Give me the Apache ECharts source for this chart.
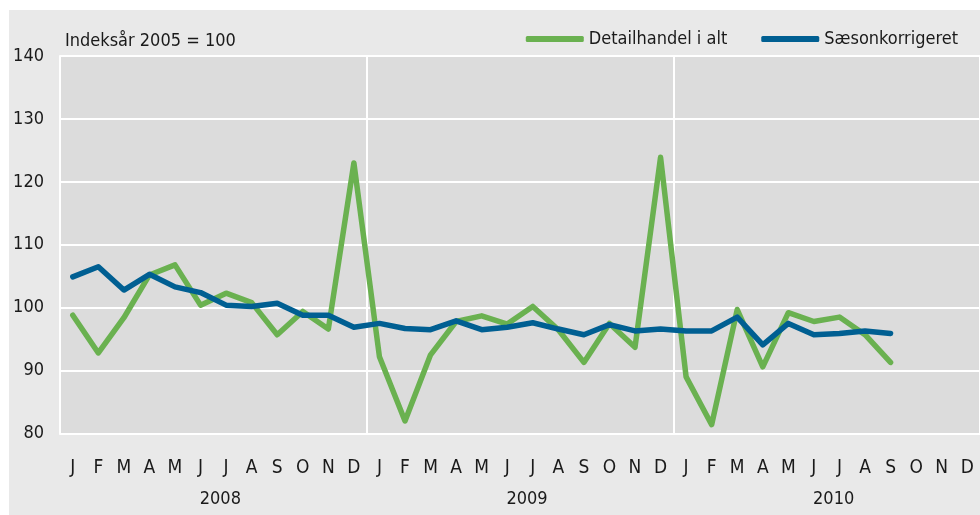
<!DOCTYPE html>
<html>
<head>
<meta charset="utf-8">
<script src="https://cdn.jsdelivr.net/npm/echarts@6/dist/echarts.min.js"></script>
<style>
html,body{margin:0;padding:0;background:#fff;}
#wrap{position:relative;width:980px;height:515px;background:#fff;overflow:hidden;}
#bg{position:absolute;left:9px;top:10px;width:971px;height:505px;background:#e9e9e9;}
#chart{position:absolute;left:0;top:0;width:980px;height:515px;}
</style>
</head>
<body>
<div id="wrap"><div id="bg"></div><div id="chart"></div></div>
<script>
var monthLetters = ['J','F','M','A','M','J','J','A','S','O','N','D'];
var years = ['2008','2009','2010'];
var seriesNames = ['Detailhandel i alt', 'Sæsonkorrigeret'];
var yTicks = [80, 90, 100, 110, 120, 130, 140];
var unitLabel = 'Indeksår 2005 = 100';

var detailhandel = [
  98.8, 92.8, 98.4, 105.2, 106.8, 100.4, 102.3, 100.8, 95.7, 99.4, 96.6, 123.0,
  92.2, 82.0, 92.5, 97.8, 98.7, 97.4, 100.2, 96.5, 91.3, 97.5, 93.7, 123.9,
  89.0, 81.4, 99.7, 90.6, 99.2, 97.8, 98.5, 95.7, 91.3, null, null, null
];
var saeson = [
  104.9, 106.5, 102.8, 105.3, 103.3, 102.4, 100.4, 100.2, 100.7, 98.8, 98.8, 96.9,
  97.5, 96.7, 96.5, 97.9, 96.5, 96.9, 97.6, 96.6, 95.7, 97.3, 96.3, 96.6,
  96.3, 96.3, 98.5, 94.1, 97.5, 95.7, 95.9, 96.3, 95.9, null, null, null
];

var categories = [];
years.forEach(function (y) {
  monthLetters.forEach(function (m, i) { categories.push(y + '-' + (i + 1)); });
});

var FONT = "'Liberation Sans Narrow', 'DejaVu Sans Condensed', 'Liberation Sans', sans-serif";
var TXT = '#1a1a1a';

var chart = echarts.init(document.getElementById('chart'), null, {renderer: 'canvas'});
chart.setOption({
  backgroundColor: 'transparent',
  animation: false,
  textStyle: {fontFamily: FONT, color: TXT},
  title: {
    text: unitLabel,
    left: 60, top: 27,
    textStyle: {fontFamily: FONT, fontSize: 18, fontWeight: 'normal', color: TXT}
  },
  legend: {
    data: seriesNames,
    right: 17, top: 25,
    itemGap: 34,
    itemWidth: 58, itemHeight: 6,
    icon: 'roundRect',
    textStyle: {fontFamily: FONT, fontSize: 18, color: TXT}
  },
  grid: {
    left: 60, right: 0, top: 56, bottom: 81.5,
    show: true, backgroundColor: '#dcdcdc', borderWidth: 0,
    containLabel: false
  },
  xAxis: [
    {
      type: 'category',
      data: categories,
      boundaryGap: true,
      position: 'bottom',
      axisLine: {show: true, lineStyle: {color: '#ffffff', width: 2}},
      axisTick: {show: false},
      splitLine: {show: false},
      axisLabel: {
        interval: 0, margin: 25,
        fontFamily: FONT, fontSize: 19, color: TXT,
        formatter: function (v, idx) { return monthLetters[idx % 12]; }
      }
    },
    {
      type: 'category',
      data: years,
      boundaryGap: true,
      position: 'bottom',
      axisLine: {show: false},
      axisTick: {show: false},
      splitLine: {show: true, lineStyle: {color: '#ffffff', width: 2}},
      axisLabel: {
        interval: 0, margin: 57, padding: [0, 0, 0, 14],
        fontFamily: FONT, fontSize: 18, color: TXT
      }
    }
  ],
  yAxis: {
    type: 'value',
    min: yTicks[0], max: yTicks[yTicks.length - 1], interval: 10,
    axisLine: {show: true, lineStyle: {color: '#ffffff', width: 2}},
    axisTick: {show: false},
    splitLine: {show: true, lineStyle: {color: '#ffffff', width: 2}},
    axisLabel: {
      margin: 16, padding: [6, 0, 0, 0],
      fontFamily: FONT, fontSize: 18, color: TXT
    }
  },
  series: [
    {
      name: seriesNames[0],
      type: 'line',
      xAxisIndex: 0,
      data: detailhandel,
      symbol: 'none',
      color: '#6ab150',
      lineStyle: {width: 5.5, color: '#6ab150', cap: 'round', join: 'round'},
      z: 2
    },
    {
      name: seriesNames[1],
      type: 'line',
      xAxisIndex: 0,
      data: saeson,
      symbol: 'none',
      color: '#005f92',
      lineStyle: {width: 5.5, color: '#005f92', cap: 'round', join: 'round'},
      z: 3
    }
  ]
});
</script>
</body>
</html>
